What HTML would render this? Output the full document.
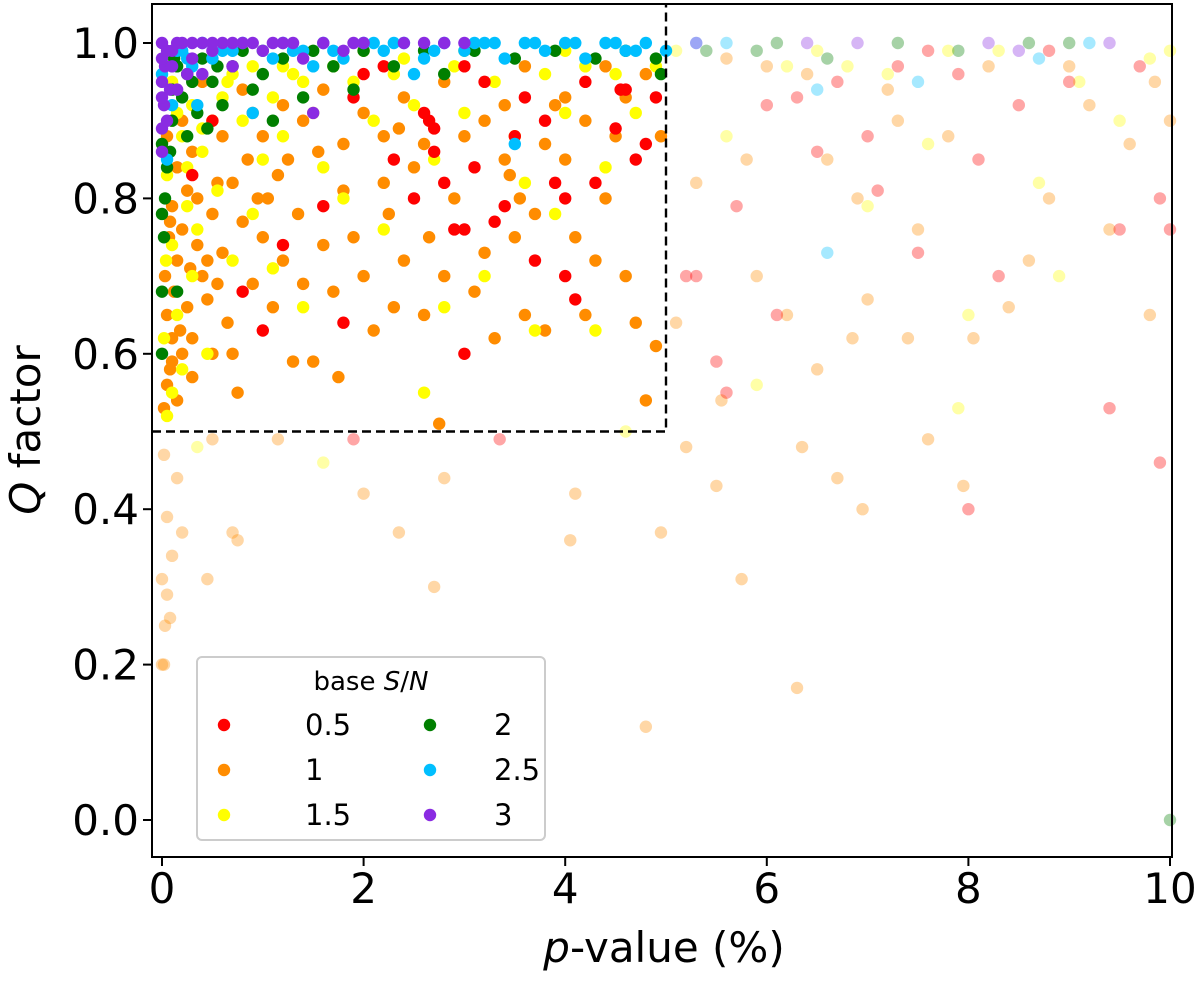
<!DOCTYPE html>
<html><head><meta charset="utf-8"><style>
body{margin:0;background:#fff}
svg text{font-family:"DejaVu Sans","Liberation Sans",sans-serif;fill:#000}
</style></head><body>
<svg id="chart" width="1200" height="984">
<g id="marks"></g>
<g id="axes"></g>
</svg>
<script>
const xTicks=[0,2,4,6,8,10];
const yTicks=[0.0,0.2,0.4,0.6,0.8,1.0];
const seriesLabels=["0.5","1","1.5","2","2.5","3"];
const seriesColors=["#ff0000","#ff8c00","#ffff00","#007f00","#00bfff","#8a2be2"];
const redIn=[[1.0,0.63],[0.8,0.68],[1.2,0.74],[1.6,0.79],[1.8,0.64],[2.3,0.85],[2.5,0.80],[2.7,0.86],[2.8,0.82],[2.9,0.76],[3.0,0.76],[3.0,0.60],[3.1,0.84],[3.3,0.77],[3.4,0.79],[3.5,0.88],[3.6,0.93],[3.7,0.72],[3.9,0.82],[4.0,0.80],[4.0,0.70],[4.1,0.67],[4.3,0.82],[4.5,0.89],[4.6,0.94],[4.7,0.85],[4.8,0.87],[4.9,0.93],[2.6,0.91],[2.7,0.89],[3.0,0.97],[3.2,0.95],[2.0,0.96],[2.2,0.97],[1.9,0.93],[0.5,0.9],[0.3,0.83],[4.2,0.95],[3.8,0.90],[4.55,0.94],[2.65,0.90]];
const redOut=[[5.2,0.70],[5.3,0.70],[5.5,0.59],[5.6,0.55],[5.7,0.79],[6.1,0.65],[6.3,0.93],[6.5,0.86],[6.7,0.95],[7.0,0.88],[7.1,0.81],[7.3,0.97],[7.5,0.73],[7.9,0.96],[8.0,0.4],[8.1,0.85],[8.3,0.70],[8.5,0.92],[9.0,0.95],[9.4,0.53],[9.5,0.76],[9.7,0.97],[9.9,0.46],[9.9,0.80],[10.0,0.76],[3.35,0.49],[1.9,0.49],[6.0,0.92],[8.8,0.99],[7.6,0.99]];
const orangeIn=[[0.02,0.53],[0.05,0.56],[0.08,0.58],[0.1,0.62],[0.05,0.65],[0.12,0.68],[0.03,0.7],[0.15,0.72],[0.07,0.75],[0.2,0.76],[0.1,0.79],[0.25,0.81],[0.15,0.84],[0.3,0.86],[0.05,0.88],[0.2,0.9],[0.35,0.74],[0.4,0.70],[0.45,0.67],[0.3,0.62],[0.5,0.78],[0.55,0.82],[0.6,0.73],[0.65,0.64],[0.7,0.6],[0.75,0.55],[0.8,0.77],[0.85,0.85],[0.9,0.69],[0.95,0.8],[1.0,0.75],[1.1,0.66],[1.15,0.83],[1.2,0.72],[1.3,0.59],[1.35,0.78],[1.4,0.69],[1.5,0.59],[1.55,0.86],[1.6,0.74],[1.7,0.68],[1.75,0.57],[1.8,0.81],[1.9,0.75],[2.0,0.70],[2.1,0.63],[2.2,0.88],[2.25,0.78],[2.3,0.66],[2.4,0.72],[2.5,0.84],[2.6,0.65],[2.65,0.75],[2.75,0.51],[2.8,0.70],[2.9,0.80],[3.0,0.88],[3.1,0.68],[3.2,0.73],[3.3,0.62],[3.4,0.85],[3.5,0.75],[3.55,0.80],[3.6,0.65],[3.7,0.78],[3.8,0.63],[3.9,0.92],[4.0,0.85],[4.1,0.75],[4.2,0.65],[4.3,0.72],[4.4,0.80],[4.5,0.88],[4.6,0.70],[4.7,0.64],[4.8,0.54],[4.9,0.61],[4.95,0.88],[4.8,0.96],[4.4,0.97],[4.0,0.93],[3.6,0.97],[3.2,0.90],[2.8,0.95],[2.4,0.93],[2.0,0.91],[1.6,0.94],[1.2,0.92],[0.8,0.94],[0.4,0.95],[0.6,0.88],[1.0,0.88],[1.4,0.90],[1.8,0.87],[2.2,0.82],[2.6,0.87],[3.4,0.92],[3.8,0.87],[4.2,0.90],[4.6,0.93],[0.3,0.57],[0.2,0.6],[0.5,0.6],[0.15,0.54],[0.25,0.66],[0.35,0.80],[0.45,0.72],[0.55,0.69],[0.7,0.82],[0.9,0.91],[1.05,0.80],[1.25,0.85],[0.1,0.59],[0.18,0.63],[0.28,0.71],[0.08,0.77],[3.45,0.83],[2.35,0.89]];
const orangeOut=[[0.02,0.47],[0.05,0.39],[0.1,0.34],[0.0,0.31],[0.05,0.29],[0.03,0.25],[0.08,0.26],[0.0,0.20],[0.02,0.20],[0.15,0.44],[0.2,0.37],[0.45,0.31],[0.5,0.49],[0.7,0.37],[0.75,0.36],[1.15,0.49],[2.0,0.42],[2.35,0.37],[2.7,0.30],[2.8,0.44],[4.05,0.36],[4.1,0.42],[4.8,0.12],[4.95,0.37],[5.1,0.64],[5.2,0.48],[5.3,0.82],[5.5,0.43],[5.55,0.54],[5.75,0.31],[5.8,0.85],[5.9,0.70],[6.0,0.97],[6.2,0.65],[6.3,0.17],[6.35,0.48],[6.5,0.58],[6.6,0.85],[6.7,0.44],[6.85,0.62],[6.9,0.80],[6.95,0.40],[7.0,0.67],[7.3,0.90],[7.4,0.62],[7.5,0.76],[7.6,0.49],[7.8,0.88],[7.95,0.43],[8.05,0.62],[8.4,0.66],[8.6,0.72],[8.8,0.80],[9.2,0.92],[9.4,0.76],[9.6,0.87],[9.8,0.65],[9.85,0.95],[10.0,0.90],[5.6,0.98],[6.4,0.96],[7.2,0.94],[8.2,0.97],[9.0,0.97]];
const yellowIn=[[0.05,0.52],[0.1,0.55],[0.2,0.58],[0.15,0.65],[0.3,0.7],[0.1,0.74],[0.25,0.79],[0.05,0.83],[0.4,0.86],[0.2,0.88],[0.5,0.9],[0.3,0.92],[0.6,0.93],[0.1,0.95],[0.7,0.96],[0.9,0.97],[0.8,0.9],[1.0,0.85],[1.1,0.93],[1.3,0.96],[1.2,0.88],[1.5,0.91],[1.7,0.97],[1.6,0.84],[1.9,0.95],[2.1,0.90],[2.3,0.96],[2.5,0.92],[2.6,0.55],[2.7,0.85],[2.9,0.97],[3.0,0.91],[3.2,0.70],[3.3,0.95],[3.5,0.88],[3.7,0.63],[3.8,0.96],[3.9,0.78],[4.0,0.91],[4.2,0.97],[4.4,0.84],[4.5,0.96],[4.7,0.91],[4.9,0.97],[0.35,0.76],[0.7,0.72],[1.4,0.66],[1.8,0.80],[2.2,0.76],[2.8,0.66],[0.55,0.81],[0.9,0.78],[1.1,0.71],[0.45,0.6],[4.3,0.63],[3.6,0.82],[1.0,0.99],[2.0,0.99],[3.0,0.99],[4.0,0.99],[0.25,0.84],[0.4,0.89],[0.65,0.95],[1.4,0.95],[1.2,0.97],[2.4,0.98],[0.02,0.62],[0.04,0.72],[0.15,0.91]];
const yellowOut=[[0.35,0.48],[1.6,0.46],[4.6,0.50],[5.1,0.99],[5.6,0.88],[5.9,0.56],[6.2,0.97],[6.8,0.97],[7.0,0.79],[7.2,0.96],[7.6,0.87],[7.9,0.53],[8.0,0.65],[8.3,0.99],[8.7,0.82],[8.9,0.70],[9.1,0.95],[9.5,0.90],[9.8,0.98],[10.0,0.99],[6.5,0.99],[7.8,0.99]];
const greenIn=[[0.0,0.60],[0.0,0.68],[0.02,0.75],[0.0,0.78],[0.03,0.80],[0.05,0.84],[0.0,0.87],[0.1,0.9],[0.2,0.93],[0.3,0.95],[0.15,0.97],[0.4,0.98],[0.5,0.95],[0.6,0.92],[0.7,0.97],[0.8,0.99],[1.0,0.96],[1.2,0.98],[1.4,0.93],[1.5,0.99],[1.7,0.97],[1.9,0.94],[2.0,0.99],[2.3,0.97],[2.6,0.99],[2.8,0.96],[3.1,0.99],[3.5,0.98],[3.9,0.99],[4.3,0.98],[4.6,0.99],[4.9,0.98],[4.95,0.96],[0.25,0.88],[0.45,0.89],[1.1,0.90],[0.15,0.68],[0.9,0.94],[0.1,0.94],[0.25,0.96],[0.35,0.91],[0.55,0.97],[0.12,0.98],[0.08,0.86]];
const greenOut=[[5.4,0.99],[6.1,1.0],[6.6,0.98],[7.3,1.0],[7.9,0.99],[8.6,1.0],[9.0,1.0],[10.0,0.0],[5.9,0.99]];
const cyanIn=[[0.05,0.85],[0.1,0.92],[0.0,0.96],[0.2,0.99],[0.4,1.0],[0.6,0.99],[0.8,1.0],[1.0,0.99],[1.2,1.0],[1.4,0.99],[1.6,1.0],[1.8,0.98],[2.0,1.0],[2.2,0.99],[2.4,1.0],[2.6,0.98],[2.8,1.0],[3.0,0.99],[3.2,1.0],[3.4,0.98],[3.6,1.0],[3.8,0.99],[4.0,1.0],[4.2,0.98],[4.4,1.0],[4.6,0.99],[4.8,1.0],[5.0,0.99],[3.5,0.87],[0.3,0.97],[1.5,0.97],[2.5,0.96],[0.15,0.99],[0.25,0.98],[0.5,0.98],[0.7,0.99],[1.1,0.98],[1.3,0.99],[1.7,0.99],[2.1,1.0],[2.3,1.0],[2.7,0.99],[3.1,1.0],[3.3,1.0],[3.7,1.0],[4.1,1.0],[4.5,1.0],[4.7,0.99],[0.35,0.92],[0.9,0.91]];
const cyanOut=[[5.3,1.0],[5.6,1.0],[6.5,0.94],[6.6,0.73],[7.5,0.95],[8.7,0.98],[9.2,1.0]];
const purpleIn=[[0.0,0.86],[0.0,0.89],[0.02,0.92],[0.0,0.95],[0.03,0.97],[0.0,1.0],[0.1,0.99],[0.2,1.0],[0.3,0.98],[0.4,1.0],[0.5,0.99],[0.6,1.0],[0.7,0.97],[0.8,1.0],[1.0,0.99],[1.2,1.0],[1.4,0.98],[1.5,0.91],[1.6,1.0],[1.8,0.99],[2.0,1.0],[2.4,1.0],[2.8,1.0],[0.15,0.94],[0.25,0.96],[0.05,0.90],[0.1,0.97],[0.0,0.98],[0.0,0.93],[0.05,0.99],[0.15,1.0],[0.3,1.0],[0.5,1.0],[0.7,1.0],[0.9,1.0],[1.1,1.0],[1.3,1.0],[1.9,1.0],[2.6,1.0],[3.0,1.0],[0.4,0.96],[0.08,0.94]];
const purpleOut=[[5.3,1.0],[6.4,1.0],[8.2,1.0],[9.4,1.0],[8.5,0.99],[6.9,1.0]];

const NS='http://www.w3.org/2000/svg';
const L=152,R=1172,T=4,B=857,RAD=6.2;
const X=v=>162+v*100.8;
const Y=v=>820-v*777;
const marks=document.getElementById('marks');
const axes=document.getElementById('axes');
function mk(tag,attrs,parent){const e=document.createElementNS(NS,tag);for(const k in attrs)e.setAttribute(k,attrs[k]);parent.appendChild(e);return e;}
const groups=[[orangeIn,orangeOut,1],[yellowIn,yellowOut,2],[redIn,redOut,0],[greenIn,greenOut,3],[cyanIn,cyanOut,4],[purpleIn,purpleOut,5]];
groups.forEach(([inn,out,ci])=>{
  out.forEach(p=>{const c=mk('circle',{cx:X(p[0]),cy:Y(p[1]),r:RAD,fill:seriesColors[ci],'fill-opacity':0.35},marks);
    
    });
});
groups.forEach(([inn,out,ci])=>{
  inn.forEach(p=>{const c=mk('circle',{cx:X(p[0]),cy:Y(p[1]),r:RAD,fill:seriesColors[ci]},marks);
    
    });
});
const db=mk('path',{d:`M${L} ${Y(0.5)} H${X(5)} V${T}`,fill:'none',stroke:'#000','stroke-width':2.4,'stroke-dasharray':'9,5'},axes);


const fr=mk('rect',{x:L,y:T,width:R-L,height:B-T,fill:'none',stroke:'#000','stroke-width':2},axes);


xTicks.forEach(t=>{
  mk('line',{x1:X(t),x2:X(t),y1:B,y2:B+9,stroke:'#000','stroke-width':2},axes);
  const tx=mk('text',{x:X(t),y:B+46,'font-size':42,'text-anchor':'middle'},axes);tx.textContent=t;
  
  
});
yTicks.forEach(t=>{
  mk('line',{x1:L-9,x2:L,y1:Y(t),y2:Y(t),stroke:'#000','stroke-width':2},axes);
  const tx=mk('text',{x:L-13,y:Y(t)+15,'font-size':42,'text-anchor':'end'},axes);tx.textContent=t.toFixed(1);
  
  
});
const xl=mk('text',{x:664,y:962,'font-size':42,'text-anchor':'middle'},axes);
xl.innerHTML='<tspan font-style="italic">p</tspan>-value (%)';


const yl=mk('text',{x:0,y:0,'font-size':42,'text-anchor':'middle',transform:'translate(40,430) rotate(-90)'},axes);
yl.innerHTML='<tspan font-style="italic">Q</tspan> factor';


const lg=mk('g',{},axes);


mk('rect',{x:197,y:657,width:348,height:183,rx:5,fill:'#fff','fill-opacity':0.85,stroke:'#ccc','stroke-width':2},lg);
const lt=mk('text',{x:371,y:690,'font-size':26,'text-anchor':'middle'},lg);
lt.innerHTML='base <tspan font-style="italic">S</tspan>/<tspan font-style="italic">N</tspan>';


seriesLabels.forEach((s,i)=>{
  const col=Math.floor(i/3),row=i%3;
  const mx=col?430:224, my=725+row*45;
  const e=mk('g',{},lg);
  
  
  mk('circle',{cx:mx,cy:my,r:RAD,fill:seriesColors[i]},e);
  const t=mk('text',{x:col?494:305,y:my+10,'font-size':29},e);t.textContent=s;
});
</script>
</body></html>
